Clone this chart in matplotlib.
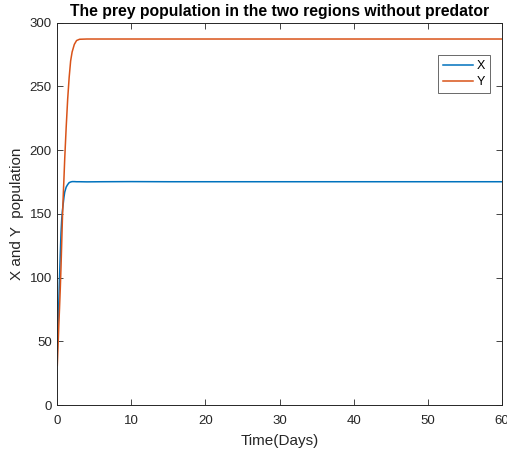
import matplotlib
matplotlib.use("Agg")
import matplotlib.pyplot as plt

# Data
t = [0, 0.1, 0.2, 0.3, 0.4, 0.5, 0.6, 0.7, 0.8, 0.9, 1.0, 1.2, 1.4, 1.6, 1.8,
     2.0, 2.3, 2.6, 3.0, 4, 6, 10, 15, 20, 30, 40, 50, 60]
x_pop = [49, 62, 80, 100, 118, 135, 146, 153, 158, 163, 167, 171, 173, 174.5, 175,
         175.3, 175.3, 175.2, 175.2, 175.1, 175.2, 175.3, 175.2, 175.2, 175.2, 175.2, 175.2, 175.2]
y_pop = [31, 46, 62, 76, 91, 108, 128, 148, 164, 178, 193, 218, 240, 257, 270,
         277, 283, 286, 287, 287.2, 287.2, 287.2, 287.2, 287.2, 287.2, 287.2, 287.2, 287.2]
xticks = [0, 10, 20, 30, 40, 50, 60]
yticks = [0, 50, 100, 150, 200, 250, 300]

plt.rcParams['font.family'] = ['Liberation Sans', 'DejaVu Sans']

fig = plt.figure(figsize=(5.07, 4.54), dpi=100)
ax = fig.add_axes([57.3/507, 1-405/454, (501.7-57.3)/507, (405-22.7)/454])

ax.plot(t, x_pop, color='#0072BD', lw=1.1, label='X')
ax.plot(t, y_pop, color='#D95319', lw=1.1, label='Y')

ax.set_xlim(0, 60)
ax.set_ylim(0, 300)
ax.set_xticks(xticks)
ax.set_yticks(yticks)
ax.tick_params(direction='in', top=True, right=True, labelsize=9.5, colors='#262626',
               length=4, width=0.6)
ax.tick_params(axis='x', pad=7)
ax.tick_params(axis='y', pad=4)
for s in ax.spines.values():
    s.set_linewidth(0.7)
    s.set_color('#262626')

ax.set_xlabel('Time(Days)', fontsize=11, color='#262626', labelpad=5)
ax.set_ylabel('X and Y  population', fontsize=11, color='#262626', labelpad=4)
ax.set_title('The prey population in the two regions without predator',
             fontsize=11.3, fontweight='bold', pad=5)

leg = ax.legend(loc='upper right', bbox_to_anchor=(0.973, 0.915), fontsize=9,
                frameon=True, fancybox=False, handlelength=2.4, handletextpad=0.3,
                borderpad=0.4, labelspacing=0.3, borderaxespad=0)
leg.get_frame().set_edgecolor('#262626')
leg.get_frame().set_linewidth(0.6)

fig.savefig('out.png', dpi=100)
